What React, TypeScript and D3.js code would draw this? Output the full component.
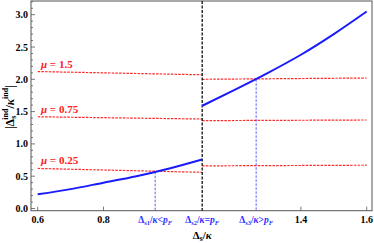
import React, { useEffect, useRef } from "react";
import * as d3 from "d3";

// blue curve, two branches either side of the gap
const xLeft = [0.6, 0.7, 0.8, 0.9, 1.0, 1.1];
const blueLeft = [0.22, 0.3, 0.4, 0.5, 0.62, 0.76];
const xRight = [1.1, 1.2, 1.3, 1.4, 1.5, 1.6];
const blueRight = [1.59, 1.84, 2.1, 2.38, 2.7, 3.05];

// red dashed lines (mu values), endpoints of each segment
const muLabels = ["1.5", "0.75", "0.25"];
const redLeftX = [0.6, 1.1];
const redRightX = [1.1, 1.6];
const redLeft = [
  [2.12, 2.07],
  [1.42, 1.385],
  [0.62, 0.56],
];
const redRight = [
  [2.0, 2.02],
  [1.36, 1.37],
  [0.66, 0.67],
];

const xTicks = [0.6, 0.8, 1.4, 1.6];
const yTicks = [0, 0.5, 1, 1.5, 2, 2.5, 3];
const ds1 = 0.957;
const ds2 = 1.1;
const ds3 = 1.264;
const ds1Y = 0.57;
const ds3Y = 2.0;

const W = 374;
const H = 243;

export default function App() {
  const ref = useRef<SVGSVGElement | null>(null);

  useEffect(() => {
    if (!ref.current) return;
    const svg = d3.select(ref.current);
    svg.selectAll("*").remove();

    const left = 31, right = 372, top = 1, bottom = 210.7;
    const x = d3.scaleLinear().domain([0.6, 1.6]).range([37.7, 366.7]);
    const y = d3.scaleLinear().domain([0, 3]).range([208.5, 14.7]);
    const font = "'Liberation Serif', 'DejaVu Serif', serif";

    // frame
    svg.append("rect")
      .attr("x", left).attr("y", top)
      .attr("width", right - left).attr("height", bottom - top)
      .attr("fill", "none").attr("stroke", "#555").attr("stroke-width", 1);

    // y ticks (major + minor)
    const minor = d3.range(0, 3.21, 0.1);
    svg.append("g").selectAll("line").data(minor).enter().append("line")
      .attr("x1", left).attr("x2", (d) => left + (Math.abs(d * 2 - Math.round(d * 2)) < 1e-6 ? 4 : 2))
      .attr("y1", (d) => y(d)).attr("y2", (d) => y(d))
      .attr("stroke", "#555").attr("stroke-width", 0.8);
    svg.append("g").selectAll("text").data(yTicks).enter().append("text")
      .attr("x", 28).attr("y", (d) => y(d) + 3.5)
      .attr("text-anchor", "end")
      .attr("font-family", font).attr("font-weight", "bold").attr("font-size", 10)
      .text((d) => d.toFixed(1));

    // x ticks
    svg.append("g").selectAll("line").data(xTicks).enter().append("line")
      .attr("x1", (d) => x(d)).attr("x2", (d) => x(d))
      .attr("y1", bottom).attr("y2", bottom - 4)
      .attr("stroke", "#555").attr("stroke-width", 0.8);
    svg.append("g").selectAll("text").data(xTicks).enter().append("text")
      .attr("x", (d) => x(d)).attr("y", 222.5)
      .attr("text-anchor", "middle")
      .attr("font-family", font).attr("font-weight", "bold").attr("font-size", 10)
      .text((d) => d.toFixed(1));

    // red dashed mu lines
    const seg = d3.line<[number, number]>().x((d) => x(d[0])).y((d) => y(d[1]));
    muLabels.forEach((mu, i) => {
      [
        [redLeftX, redLeft[i]],
        [redRightX, redRight[i]],
      ].forEach(([xs, ys]) => {
        svg.append("path")
          .attr("d", seg(xs.map((v, j) => [v, ys[j]] as [number, number])))
          .attr("fill", "none").attr("stroke", "#ff2a2a")
          .attr("stroke-width", 1.2).attr("stroke-dasharray", "2.5 1.2");
      });
      const t = svg.append("text")
        .attr("x", x(0.61)).attr("y", y(redLeft[i][0]) - 4)
        .attr("font-family", font).attr("font-weight", "bold").attr("font-size", 11)
        .attr("fill", "#ff2020");
      t.append("tspan").attr("font-style", "italic").text("μ");
      t.append("tspan").text(` = ${mu}`);
    });

    // black dashed vertical at ds2
    svg.append("line")
      .attr("x1", x(ds2)).attr("x2", x(ds2)).attr("y1", top).attr("y2", bottom)
      .attr("stroke", "#111").attr("stroke-width", 1.3).attr("stroke-dasharray", "3 1.5");

    // blue dashed verticals
    [[ds1, ds1Y], [ds3, ds3Y]].forEach(([xv, yv]) => {
      svg.append("line")
        .attr("x1", x(xv)).attr("x2", x(xv)).attr("y1", y(yv)).attr("y2", bottom)
        .attr("stroke", "#4a4aff").attr("stroke-width", 0.9).attr("stroke-dasharray", "2.5 1.5");
    });

    // blue curve
    const drawBranch = (xs: number[], ys: number[]) => {
      const ln = d3.line<[number, number]>()
        .x((d) => x(d[0])).y((d) => y(d[1]))
        .curve(d3.curveMonotoneX);
      svg.append("path")
        .attr("d", ln(xs.map((v, i) => [v, ys[i]] as [number, number])))
        .attr("fill", "none").attr("stroke", "#1a1aff").attr("stroke-width", 2);
    };
    drawBranch(xLeft, blueLeft);
    drawBranch(xRight, blueRight);

    // blue custom tick labels
    const blueTick = (xv: number, sub: string, rel: string) => {
      const t = svg.append("text")
        .attr("x", x(xv)).attr("y", 222.5).attr("text-anchor", "middle")
        .attr("font-family", font).attr("font-weight", "bold").attr("font-size", 9.5)
        .attr("fill", "#3030ff");
      t.append("tspan").text("Δ");
      t.append("tspan").attr("font-size", 6.5).attr("dy", 2).text(sub);
      t.append("tspan").attr("dy", -2).text("/");
      t.append("tspan").attr("font-style", "italic").text("κ");
      t.append("tspan").text(rel);
      t.append("tspan").attr("font-style", "italic").text("p");
      t.append("tspan").attr("font-style", "italic").attr("font-size", 6.5).attr("dy", 2).text("F");
    };
    blueTick(ds1, "s1", "<");
    blueTick(ds2, "s2", "=");
    blueTick(ds3, "s3", ">");

    // x axis label
    const xl = svg.append("text")
      .attr("x", x(ds2)).attr("y", 239).attr("text-anchor", "middle")
      .attr("font-family", font).attr("font-weight", "bold").attr("font-size", 11);
    xl.append("tspan").text("Δ");
    xl.append("tspan").attr("font-size", 7.5).attr("dy", 2).text("s");
    xl.append("tspan").attr("dy", -2).text("/");
    xl.append("tspan").attr("font-style", "italic").text("κ");

    // y axis label
    const yl = svg.append("text")
      .attr("transform", `translate(14, ${y(1.57)}) rotate(-90)`)
      .attr("text-anchor", "middle")
      .attr("font-family", font).attr("font-weight", "bold").attr("font-size", 12);
    yl.append("tspan").text("|Δ");
    yl.append("tspan").attr("font-size", 8).attr("dy", 2).text("s");
    yl.append("tspan").attr("font-size", 8).attr("dx", -4).attr("dy", -8).text("ind");
    yl.append("tspan").attr("dy", 6).text("/");
    yl.append("tspan").attr("font-style", "italic").text("κ");
    yl.append("tspan").attr("font-size", 8).attr("dy", -6).text("ind");
    yl.append("tspan").attr("dy", 6).text("|");
  }, []);

  return (
    <svg
      ref={ref}
      width={W}
      height={H}
      style={{ position: "absolute", left: 0, top: 0, background: "#fff" }}
    />
  );
}
